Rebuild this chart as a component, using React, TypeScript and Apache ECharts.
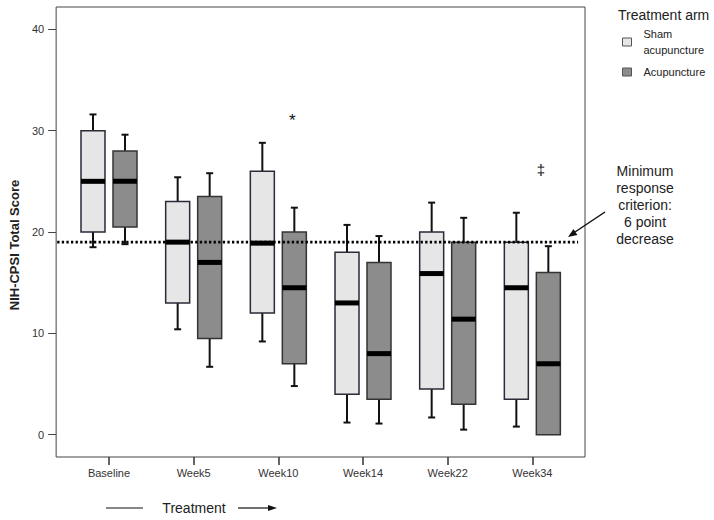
import React, { useEffect, useRef } from "react";
import * as echarts from "echarts";

const categories = ["Baseline", "Week5", "Week10", "Week14", "Week22", "Week34"];
const yTicks = [0, 10, 20, 30, 40];

const shamMin = [18.5, 10.4, 9.2, 1.2, 1.7, 0.8];
const shamQ1 = [20.0, 13.0, 12.0, 4.0, 4.5, 3.5];
const shamMedian = [25.0, 19.0, 18.9, 13.0, 15.9, 14.5];
const shamQ3 = [30.0, 23.0, 26.0, 18.0, 20.0, 19.0];
const shamMax = [31.6, 25.4, 28.8, 20.7, 22.9, 21.9];

const acuMin = [18.8, 6.7, 4.8, 1.1, 0.5, 0.0];
const acuQ1 = [20.5, 9.5, 7.0, 3.5, 3.0, 0.0];
const acuMedian = [25.0, 17.0, 14.5, 8.0, 11.4, 7.0];
const acuQ3 = [28.0, 23.5, 20.0, 17.0, 19.0, 16.0];
const acuMax = [29.6, 25.8, 22.4, 19.6, 21.4, 18.6];

const outlierCategory = [2, 5];
const outlierValue = [31.0, 26.2];
const outlierMark = ["*", "‡"];

const criterion = 19;
const seriesNames = ["Sham\nacupuncture", "Acupuncture"];

const FONT = "Liberation Sans, Arial, sans-serif";
const BOX_W = 24;
const CAP = 3.5;
const MED_H = 5;
const OFFSET = 16;
const SHAM_FILL = "#e6e6e6";
const ACU_FILL = "#8c8c8c";
const OUTLIER_DX = [14, 8.5];
const OUTLIER_SIZE = [17, 15];

function makeRender(offset: number, fill: string, stroke: string) {
  return (params: any, api: any) => {
    const cat = api.value(0);
    const y = (v: number) => api.coord([cat, v])[1];
    const cx = api.coord([cat, api.value(3)])[0] + offset;
    const yMin = y(api.value(1));
    const yQ1 = y(api.value(2));
    const yMed = y(api.value(3));
    const yQ3 = y(api.value(4));
    const yMax = y(api.value(5));
    const wl = { stroke: "#111", lineWidth: 2 };
    const children: any[] = [];
    if (yMax < yQ3 - 0.5) {
      children.push({ type: "line", shape: { x1: cx, y1: yQ3, x2: cx, y2: yMax }, style: wl });
      children.push({ type: "line", shape: { x1: cx - CAP, y1: yMax, x2: cx + CAP, y2: yMax }, style: wl });
    }
    if (yMin > yQ1 + 0.5) {
      children.push({ type: "line", shape: { x1: cx, y1: yQ1, x2: cx, y2: yMin }, style: wl });
      children.push({ type: "line", shape: { x1: cx - CAP, y1: yMin, x2: cx + CAP, y2: yMin }, style: wl });
    }
    children.push({
      type: "rect",
      shape: { x: cx - BOX_W / 2, y: yQ3, width: BOX_W, height: yQ1 - yQ3 },
      style: { fill, stroke, lineWidth: 1.5 },
    });
    children.push({
      type: "rect",
      shape: { x: cx - BOX_W / 2, y: yMed - MED_H / 2, width: BOX_W, height: MED_H },
      style: { fill: "#000" },
    });
    return { type: "group", children };
  };
}

function renderOutlier(params: any, api: any) {
  const i = params.dataIndex;
  const p = api.coord([api.value(0), api.value(1)]);
  return {
    type: "text",
    x: p[0] + OUTLIER_DX[i],
    y: p[1],
    style: {
      text: outlierMark[i],
      font: `${OUTLIER_SIZE[i]}px Liberation Sans, Arial, sans-serif`,
      fill: "#111",
      align: "center",
      verticalAlign: "middle",
    },
  };
}

export default function App() {
  const ref = useRef<HTMLDivElement>(null);
  useEffect(() => {
    if (!ref.current) return;
    const chart = echarts.init(ref.current, null, { renderer: "svg" });
    const shamData = categories.map((_, i) => [i, shamMin[i], shamQ1[i], shamMedian[i], shamQ3[i], shamMax[i]]);
    const acuData = categories.map((_, i) => [i, acuMin[i], acuQ1[i], acuMedian[i], acuQ3[i], acuMax[i]]);
    const outlierData = outlierCategory.map((c, i) => [c, outlierValue[i]]);

    const option: any = {
      animation: false,
      backgroundColor: "#fff",
      title: {
        text: "Treatment arm",
        left: 613,
        top: 3,
        textStyle: { fontFamily: FONT, fontSize: 14, fontWeight: "normal", color: "#222" },
      },
      legend: {
        orient: "vertical",
        left: 617,
        top: 21,
        itemWidth: 9,
        itemHeight: 8,
        itemGap: 6,
        icon: "rect",
        data: [
          { name: seriesNames[0], itemStyle: { color: SHAM_FILL, borderColor: "#555", borderWidth: 1 } },
          { name: seriesNames[1], itemStyle: { color: ACU_FILL, borderColor: "#555", borderWidth: 1 } },
        ],
        textStyle: { fontFamily: FONT, fontSize: 11, color: "#222", lineHeight: 16, padding: [0, 0, 0, 7] },
        selectedMode: false,
      },
      grid: [
        { left: 55, top: 7, width: 530, height: 450, show: true, borderColor: "#444", borderWidth: 1, backgroundColor: "transparent" },
        { left: 66.67, top: 7, width: 508, height: 450 },
      ],
      xAxis: [
        { gridIndex: 0, type: "value", min: 0, max: 1, show: false },
        {
          gridIndex: 1,
          type: "category",
          data: categories,
          axisLine: { show: false, onZero: false },
          axisTick: { show: true, alignWithLabel: true, length: 8, lineStyle: { color: "#333", width: 1.5 } },
          axisLabel: { fontFamily: FONT, fontSize: 11, color: "#333", margin: 10 },
          splitLine: { show: false },
        },
      ],
      yAxis: [
        {
          gridIndex: 0,
          type: "value",
          min: -2.2,
          max: 42.2,
          name: "NIH-CPSI Total Score",
          nameLocation: "middle",
          nameRotate: 90,
          nameGap: 35,
          nameTextStyle: { fontFamily: FONT, fontSize: 13, fontWeight: "bold", color: "#222", padding: [0, 26, 0, 0] },
          axisLine: { show: false },
          axisTick: { show: true, length: 8, customValues: yTicks, lineStyle: { color: "#444" } },
          axisLabel: { fontFamily: FONT, fontSize: 11, color: "#333", margin: 12, customValues: yTicks },
          splitLine: { show: false },
        },
        { gridIndex: 1, type: "value", min: -2.2, max: 42.2, show: false, splitLine: { show: false } },
      ],
      series: [
        {
          type: "line",
          xAxisIndex: 0,
          yAxisIndex: 0,
          data: [[0.002, criterion], [0.987, criterion]],
          symbol: "none",
          silent: true,
          lineStyle: { color: "#000", width: 2.6, type: [2.3, 2.3] },
        },
        {
          type: "custom",
          name: seriesNames[0],
          xAxisIndex: 1,
          yAxisIndex: 1,
          data: shamData,
          encode: { x: 0, y: [1, 2, 3, 4, 5] },
          itemStyle: { color: SHAM_FILL },
          renderItem: makeRender(-OFFSET, SHAM_FILL, "#2a2a38"),
        },
        {
          type: "custom",
          name: seriesNames[1],
          xAxisIndex: 1,
          yAxisIndex: 1,
          data: acuData,
          encode: { x: 0, y: [1, 2, 3, 4, 5] },
          itemStyle: { color: ACU_FILL },
          renderItem: makeRender(OFFSET, ACU_FILL, "#333"),
        },
        {
          type: "custom",
          name: "outliers",
          xAxisIndex: 1,
          yAxisIndex: 1,
          data: outlierData,
          encode: { x: 0, y: 1 },
          silent: true,
          itemStyle: { color: "#111" },
          renderItem: renderOutlier,
        },
      ],
      graphic: [
        {
          type: "text",
          x: 645,
          y: 163,
          style: {
            text: "Minimum\nresponse\ncriterion:\n6 point\ndecrease",
            font: "14px Liberation Sans, Arial, sans-serif",
            fill: "#222",
            align: "center",
            lineHeight: 16.9,
          },
        },
        { type: "line", shape: { x1: 605, y1: 212, x2: 575, y2: 232 }, style: { stroke: "#111", lineWidth: 1.5 } },
        { type: "polygon", shape: { points: [[568, 237], [577.4, 234.9], [573.5, 229.1]] }, style: { fill: "#111" } },
        { type: "line", shape: { x1: 106, y1: 508, x2: 143, y2: 508 }, style: { stroke: "#111", lineWidth: 1.2 } },
        {
          type: "text",
          x: 194,
          y: 508,
          style: {
            text: "Treatment",
            font: "14px Liberation Sans, Arial, sans-serif",
            fill: "#222",
            align: "center",
            verticalAlign: "middle",
          },
        },
        { type: "line", shape: { x1: 238, y1: 508, x2: 270, y2: 508 }, style: { stroke: "#111", lineWidth: 1.2 } },
        { type: "polygon", shape: { points: [[277, 508], [268, 505], [268, 511]] }, style: { fill: "#111" } },
      ],
    };
    chart.setOption(option);
    return () => chart.dispose();
  }, []);
  return <div ref={ref} style={{ width: 714, height: 520, position: "absolute", left: 0, top: 0 }} />;
}
